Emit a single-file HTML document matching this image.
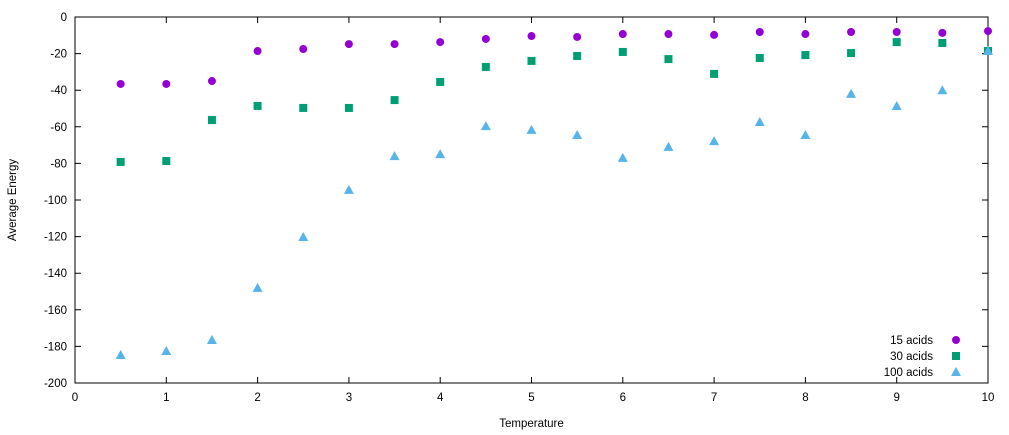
<!DOCTYPE html>
<html><head><meta charset="utf-8"><style>
html,body{margin:0;padding:0;background:#fff;}
svg{display:block;font-family:"Liberation Sans",sans-serif;font-size:11.5px;}
</style></head><body>
<svg id="chart" width="1009" height="435"></svg>
<script>
const xValues=[0.5,1,1.5,2,2.5,3,3.5,4,4.5,5,5.5,6,6.5,7,7.5,8,8.5,9,9.5,10];
const acids15=[-36.6,-36.6,-35,-18.6,-17.5,-14.8,-14.8,-13.7,-12,-10.4,-10.9,-9.3,-9.3,-9.8,-8.2,-9.3,-8.2,-8.2,-8.7,-7.7];
const acids30=[-79.2,-78.7,-56.3,-48.6,-49.7,-49.7,-45.4,-35.5,-27.3,-24,-21.3,-19.1,-23,-31.1,-22.4,-20.8,-19.7,-13.7,-14.2,-18.6];
const acids100=[-184.7,-182.5,-176.5,-148,-120.2,-94.5,-76,-74.9,-59.6,-61.7,-64.5,-77,-71,-67.8,-57.4,-64.5,-42,-48.6,-40,-18.6];
const xTicks=[0,1,2,3,4,5,6,7,8,9,10];
const yTicks=[0,-20,-40,-60,-80,-100,-120,-140,-160,-180,-200];
const seriesNames=["15 acids","30 acids","100 acids"];

const NS="http://www.w3.org/2000/svg";
const svg=document.getElementById('chart');
const L=75,R=988,T=17,B=383;
const sx=v=>L+(v-0)/(10-0)*(R-L);
const sy=v=>T+(0-v)/(0-(-200))*(B-T);
function mk(tag,attrs,parent){const e=document.createElementNS(NS,tag);for(const k in attrs)e.setAttribute(k,attrs[k]);(parent||svg).appendChild(e);return e;}

const frame=mk('rect',{x:L,y:T,width:R-L,height:B-T,fill:'none',stroke:'#000','stroke-width':1});



xTicks.forEach(t=>{
  const x=sx(t);
  const tk=mk('path',{d:`M${x},${B}v-6M${x},${T}v6`,stroke:'#000'});
  
  
  const lb=mk('text',{x:x,y:B+18,'text-anchor':'middle'});
  lb.textContent=t;
  
  
});
yTicks.forEach(t=>{
  const y=sy(t);
  const tk=mk('path',{d:`M${L},${y}h6M${R},${y}h-6`,stroke:'#000'});
  
  
  const lb=mk('text',{x:L-8,y:y+4,'text-anchor':'end'});
  lb.textContent=t;
  
  
});
const xt=mk('text',{x:(L+R)/2,y:427,'text-anchor':'middle'});
xt.textContent='Temperature';


const yt=mk('text',{x:0,y:0,'text-anchor':'middle',transform:`translate(16,${(T+B)/2}) rotate(-90)`});
yt.textContent='Average Energy';



function marker(kind,x,y,color){
  if(kind===0)return mk('circle',{cx:x,cy:y,r:4,fill:color});
  if(kind===1)return mk('rect',{x:x-4,y:y-4,width:8,height:8,fill:color});
  return mk('path',{d:`M${x},${y-5}L${x+5},${y+4}L${x-5},${y+4}Z`,fill:color});
}
const colors=['#9400d3','#009e73','#56b4e9'];
[acids15,acids30,acids100].forEach((s,i)=>{
  s.forEach((v,j)=>{
    const m=marker(i,sx(xValues[j]),sy(v),colors[i]);
    
    
  });
  const ly=340+i*16;
  const lt=mk('text',{x:933,y:ly+4,'text-anchor':'end'});
  lt.textContent=seriesNames[i];
  
  
  const lm=marker(i,956,ly,colors[i]);
  
  
});
</script>
</body></html>
